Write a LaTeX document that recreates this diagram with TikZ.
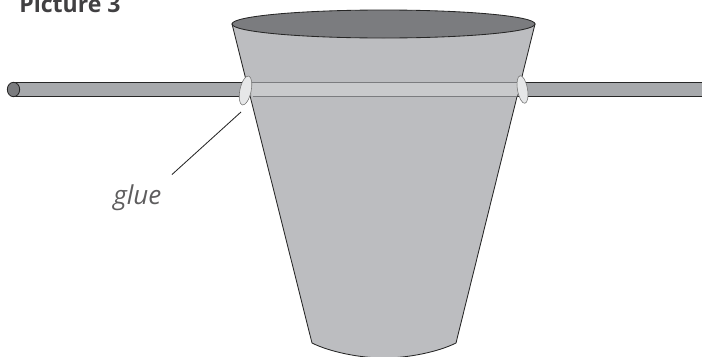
\documentclass[tikz,border=0pt]{standalone}
\usepackage{fontspec}
\setmainfont{Open Sans}
\usepackage{tikz}
\usetikzlibrary{positioning}
\definecolor{rodgray}{HTML}{A7A9AC}
\definecolor{cupgray}{HTML}{BCBDC0}
\definecolor{bandgray}{HTML}{C9CACC}
\definecolor{rimgray}{HTML}{7B7C7F}
\definecolor{gluegray}{HTML}{E6E7E8}
\definecolor{textgray}{HTML}{414042}
\tikzset{
  outline/.style={
    draw=black!85,
    line width=0.6pt
  },
  glueblob/.style={
    draw=black!55,
    fill=gluegray,
    line width=0.4pt
  },
  bandline/.style={
    draw=rimgray,
    line width=0.6pt
  },
  title/.style={
    font=\bfseries\fontsize{16.4}{18}\selectfont,
    text=textgray,
    inner sep=0pt
  },
  gluelabel/.style={
    font=\itshape\fontsize{18.5}{21}\selectfont,
    text=textgray!85,
    inner sep=0pt
  }
}
\begin{document}
\begin{tikzpicture}[x=0.025cm,y=-0.025cm]
        \useasboundingbox (0,0) rectangle (702,356);
        % rod
        \fill[rodgray] (14,82.5) rectangle (702,96.5);
        \draw[outline] (14,82.5)--(702,82.5);
        \draw[outline, line width=0.8pt] (14,96.5)--(702,96.5);
        \draw[outline, fill=rimgray] (13.5,89.5) ellipse (6.2 and 7.2);
        % cup
        \draw[outline, fill=cupgray] (232,24)--(312,343)
            .. controls (330,352) and (360,358) .. (384,358)
            .. controls (408,358) and (438,352) .. (456,343)--(535,24)--cycle;
        \fill[bandgray] (249,82.5)--(521,82.5)--(517,96.5)--(252.5,96.5)--cycle;
        \draw[bandline] (249,82.5)--(521,82.5);
        \draw[bandline] (252.5,96.5)--(517,96.5);
        \draw[outline, fill=rimgray] (383.5,24) ellipse (151.5 and 14);
        % glue
        \draw[glueblob] (245.5,90.5) ellipse [x radius=5.6, y radius=14.8, rotate=-12];
        \draw[glueblob] (522.5,89.5) ellipse [x radius=5, y radius=14, rotate=10];
        % labels
        \node[title, anchor=base west] (picturetitle) at (19,12.5) {Picture 3};
        \node[gluelabel, anchor=base west] (gluetext) at (113,204) {glue};
        \coordinate (gluetip) at (241,112);
        \draw[black!85, line width=0.6pt, shorten <=0.35cm] (gluetext.north east)--(gluetip);
\end{tikzpicture}
\end{document}
